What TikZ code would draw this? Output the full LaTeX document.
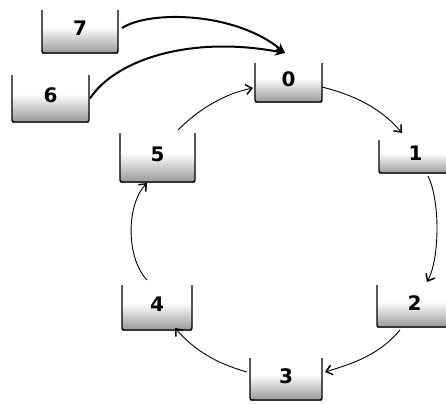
\documentclass[tikz,border=0pt]{standalone}
\usepackage{fontspec}
\setsansfont{DejaVu Sans}
\usetikzlibrary{arrows.meta,calc}
\tikzset{
  bucketbox/.style={rectangle, inner sep=0pt, outer sep=0pt},
  stipple/.style={top color=white, bottom color=black!40},
  rim/.style={draw=black, line width=1.4pt, rounded corners=2pt},
  digit/.style={font=\sffamily\bfseries\fontsize{20}{20}\selectfont, inner sep=0pt},
  cyc/.style={draw=black, line width=0.9pt, -{Straight Barb[length=6pt,width=10pt,line width=1.5pt]}},
  feed/.style={draw=black, line width=2pt, -{Stealth[length=10pt,width=9pt]}}
}
\newcommand\bkt[6]{%
  \node[bucketbox, minimum width=#4pt, minimum height=#5pt] (#1) at (#2,#3) {};
  \shade[stipple] ($(#1.south west)!0.6!(#1.north west)$) rectangle (#1.south east);
  \draw[rim] (#1.north west) -- (#1.south west) -- (#1.south east) -- (#1.north east);
  \node[digit] (#1l) at ([yshift=3pt]#1.center) {#6};
}
\begin{document}
\begin{tikzpicture}[x=1pt,y=-1pt]
  \useasboundingbox (0,0) rectangle (446,404);
  \clip (0,0) rectangle (446,404);
  \bkt{b7}{80}{31.5}{76}{43}{7}
  \bkt{b6}{50.5}{98.5}{77}{47}{6}
  \bkt{b0}{288.5}{82.5}{67}{39}{0}
  \bkt{b1}{415.5}{156.5}{73}{33}{1}
  \bkt{b2}{414.5}{306}{75}{42}{2}
  \bkt{b3}{286}{379}{72}{42}{3}
  \bkt{b4}{157}{307.5}{70}{45}{4}
  \bkt{b5}{157.5}{157.5}{75}{49}{5}
  % cycle
  \draw[cyc] ([shift={(20.5,-3)}]b5.north) .. controls (199,109) and (224,94) .. ([shift={(-2,5.5)}]b0.west);
  \draw[cyc] ([shift={(0,4.5)}]b0.east) .. controls (354,95) and (381,108) .. ([shift={(-13.5,-7)}]b1.north);
  \draw[cyc] ([shift={(12.5,3)}]b1.south) .. controls (440,200) and (440,258) .. ([shift={(12.5,-3)}]b2.north);
  \draw[cyc] ([shift={(-14.5,3)}]b2.south) .. controls (380,354) and (355,363) .. ([shift={(3,-7)}]b3.east);
  \draw[cyc] ([shift={(-3,-7)}]b3.west) .. controls (218,364) and (195,351) .. ([shift={(18,-2)}]b4.south);
  \draw[cyc] ([shift={(-10,-5)}]b4.north) .. controls (126,258) and (126,205) .. ([shift={(-10.5,1)}]b5.south);
  % feeders
  \draw[feed] ([shift={(4,-3.5)}]b7.east) .. controls (150,10) and (235,12) .. ([shift={(-3.5,-10)}]b0.north);
  \draw[feed] ([shift={(1,0)}]b6.east) .. controls (115,60) and (190,35) .. ([shift={(-3.5,-10)}]b0.north);
\end{tikzpicture}
\end{document}
